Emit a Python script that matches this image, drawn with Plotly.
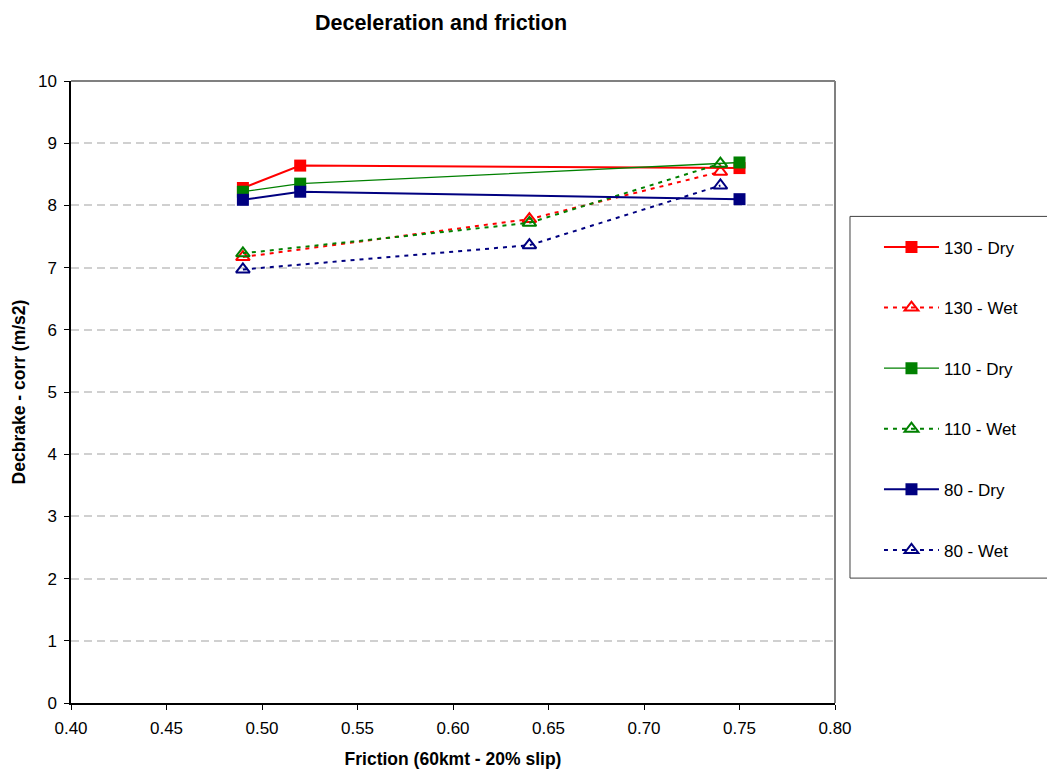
import plotly.graph_objects as go

# ---- data ----
names = ["130 - Dry", "130 - Wet", "110 - Dry", "110 - Wet", "80 - Dry", "80 - Wet"]
dry_x = [0.49, 0.52, 0.75]
wet_x = [0.49, 0.64, 0.74]
y_130_dry = [8.28, 8.64, 8.60]
y_130_wet = [7.17, 7.78, 8.54]
y_110_dry = [8.22, 8.35, 8.69]
y_110_wet = [7.23, 7.72, 8.67]
y_80_dry = [8.09, 8.22, 8.10]
y_80_wet = [6.97, 7.36, 8.32]
x_ticks = [0.40, 0.45, 0.50, 0.55, 0.60, 0.65, 0.70, 0.75, 0.80]
y_ticks = list(range(0, 11))

colors = {"130": "#FF0000", "110": "#008000", "80": "#000080"}
FONT = "Liberation Sans, Arial, sans-serif"

series = [
    (names[0], dry_x, y_130_dry, colors["130"], "dry", 2),
    (names[1], wet_x, y_130_wet, colors["130"], "wet", 2),
    (names[2], dry_x, y_110_dry, colors["110"], "dry", 1.3),
    (names[3], wet_x, y_110_wet, colors["110"], "wet", 2),
    (names[4], dry_x, y_80_dry, colors["80"], "dry", 2),
    (names[5], wet_x, y_80_wet, colors["80"], "wet", 2),
]

fig = go.Figure()
for i, (nm, xs, ys, c, kind, lw) in enumerate(series):
    if kind == "dry":
        line = dict(color=c, width=lw)
        marker = dict(symbol="square", size=12, color=c, line=dict(width=0))
    else:
        line = dict(color=c, width=2, dash="4px,5px")
        marker = dict(symbol="triangle-up-open", size=12, color=c, line=dict(width=2, color=c))
    fig.add_trace(go.Scatter(
        x=xs, y=ys, name=nm, mode="lines+markers",
        line=line, marker=marker, legendgroup=f"g{i}",
    ))

# plot area frame (top / right border)
fig.add_shape(type="line", xref="paper", yref="paper", x0=0, x1=1, y0=1, y1=1,
              line=dict(color="#808080", width=2), layer="above")
fig.add_shape(type="line", xref="paper", yref="paper", x0=1, x1=1, y0=0, y1=1,
              line=dict(color="#808080", width=2), layer="above")
# legend box
L, R, T, B = 70.5, 835, 80.5, 703
W, H = R - L, B - T
def px2x(p): return (p - L) / W
def py2y(p): return (B - p) / H
fig.add_shape(type="rect", xref="paper", yref="paper",
              x0=px2x(850), x1=px2x(1060), y0=py2y(578), y1=py2y(216),
              line=dict(color="#404040", width=1), fillcolor="rgba(0,0,0,0)")

fig.update_layout(
    width=1047, height=769,
    margin=dict(l=L, r=1047 - R, t=T, b=769 - B, pad=0, autoexpand=False),
    paper_bgcolor="white", plot_bgcolor="white",
    font=dict(family=FONT, size=17, color="black"),
    title=dict(text="<b>Deceleration and friction</b>", x=441 / 1047, xanchor="center",
               y=1 - 22 / 769, yanchor="middle", font=dict(size=21.5, family=FONT)),
    showlegend=True,
    legend=dict(x=px2x(879), xanchor="left", y=py2y(229), yanchor="top",
                bgcolor="rgba(0,0,0,0)", borderwidth=0, tracegroupgap=35.5,
                font=dict(size=17, family=FONT), itemwidth=55, traceorder="grouped"),
    xaxis=dict(range=[0.40, 0.80], tickvals=x_ticks, tickformat=".2f", automargin=False,
               showgrid=False, zeroline=False, showline=True, linecolor="#000000", linewidth=1.5,
               ticks="outside", ticklen=5, tickcolor="#000000", ticklabelstandoff=4,
               title=dict(text="<b>Friction (60kmt - 20% slip)</b>", font=dict(size=17.5), standoff=20)),
    yaxis=dict(range=[0, 10], tickvals=y_ticks, automargin=False,
               showgrid=True, gridcolor="#D0D0D0", gridwidth=1.5, griddash="8px,5px",
               zeroline=False, showline=True, linecolor="#000000", linewidth=1.5,
               ticks="outside", ticklen=5, tickcolor="#000000", ticklabelstandoff=4,
               title=dict(text="<b>Decbrake - corr (m/s2)</b>", font=dict(size=17.5), standoff=8)),
)

fig.write_html("out.html", config={"displayModeBar": False},
               post_script="document.body.style.margin='0';")
